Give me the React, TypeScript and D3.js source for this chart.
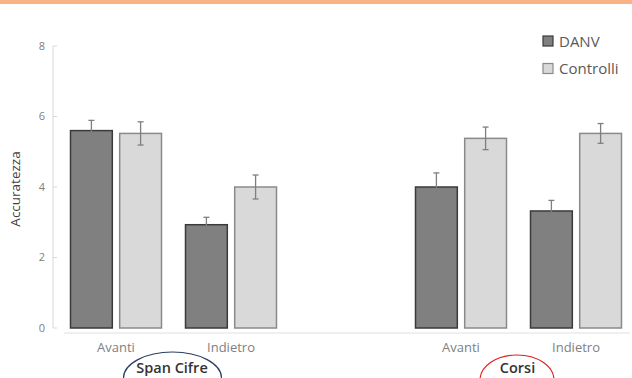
import React from "react";
import * as d3 from "d3";

const groups = ["Span Cifre", "Corsi"];
const categories = ["Avanti", "Indietro"];
const slots = ["Span Cifre|Avanti", "Span Cifre|Indietro", "gap", "Corsi|Avanti", "Corsi|Indietro"];
const seriesNames = ["DANV", "Controlli"];
const danv = [5.6, 2.93, 4.0, 3.32];
const controlli = [5.52, 4.0, 5.38, 5.52];
const danvErr = [0.29, 0.21, 0.4, 0.3];
const controlliErr = [0.33, 0.34, 0.32, 0.28];
const yTicks = [0, 2, 4, 6, 8];

const W = 632;
const H = 378;
const FONT = "'Open Sans', sans-serif";

export default function App() {
  const y = d3.scaleLinear().domain([0, 8]).range([328, 46]);
  const x = d3.scaleBand<string>().domain(slots).range([58.5, 633.5]).paddingInner(0).paddingOuter(0);
  const inner = d3.scaleBand<string>().domain(seriesNames).range([-45.5, 45.5]).paddingInner(0.15);

  const barData: { key: string; series: string; value: number; err: number }[] = [];
  groups.forEach((g, gi) => {
    categories.forEach((c, ci) => {
      const i = gi * 2 + ci;
      const key = `${g}|${c}`;
      barData.push({ key, series: "DANV", value: danv[i], err: danvErr[i] });
      barData.push({ key, series: "Controlli", value: controlli[i], err: controlliErr[i] });
    });
  });

  const fills: Record<string, string> = { DANV: "#808080", Controlli: "#d9d9d9" };
  const strokes: Record<string, string> = { DANV: "#3a3a3a", Controlli: "#8a8a8a" };
  const center = (k: string) => (x(k) as number) + x.bandwidth() / 2;

  return (
    <svg width={W} height={H} style={{ position: "absolute", left: 0, top: 0, background: "#fff" }}>
      <rect x={0} y={0} width={W} height={4} fill="#f9b384" />
      {/* y axis */}
      <line x1={53} x2={53} y1={y(8)} y2={y(0)} stroke="#d9d9d9" strokeWidth={1} />
      {yTicks.map((t) => (
        <g key={t}>
          <line x1={53} x2={57} y1={y(t)} y2={y(t)} stroke="#d9d9d9" strokeWidth={1} />
          <text x={45} y={y(t)} dy="0.35em" textAnchor="end" fontFamily={FONT} fontSize={11} fill="#808080">
            {t}
          </text>
        </g>
      ))}
      <text
        transform={`translate(15,189) rotate(-90)`}
        textAnchor="middle"
        dy="0.35em"
        fontFamily={FONT}
        fontSize={13.5}
        fill="#404040"
      >
        Accuratezza
      </text>
      {/* x axis line */}
      <line x1={64} x2={630} y1={333} y2={333} stroke="#e0e0e0" strokeWidth={1} />
      {/* bars */}
      {barData.map((d, i) => {
        const bx = center(d.key) + (inner(d.series) as number);
        const bw = inner.bandwidth();
        const cx = bx + bw / 2;
        return (
          <g key={i}>
            <rect x={bx} y={y(d.value)} width={bw} height={y(0) - y(d.value)} fill={fills[d.series]} stroke={strokes[d.series]} strokeWidth={1.5} />
            <line x1={cx} x2={cx} y1={y(d.value + d.err)} y2={y(d.value - d.err)} stroke="#7f7f7f" strokeWidth={1.3} />
            <line x1={cx - 3} x2={cx + 3} y1={y(d.value + d.err)} y2={y(d.value + d.err)} stroke="#7f7f7f" strokeWidth={1.3} />
            <line x1={cx - 3} x2={cx + 3} y1={y(d.value - d.err)} y2={y(d.value - d.err)} stroke="#7f7f7f" strokeWidth={1.3} />
          </g>
        );
      })}
      {/* category labels */}
      {groups.map((g) =>
        categories.map((c) => (
          <text key={g + c} x={center(`${g}|${c}`)} y={352} textAnchor="middle" fontFamily={FONT} fontSize={13} fill="#808080">
            {c}
          </text>
        ))
      )}
      {/* group annotations */}
      <ellipse cx={172.5} cy={378} rx={49} ry={26} fill="none" stroke="#2c3e63" strokeWidth={1.2} />
      <text x={172} y={373} textAnchor="middle" fontFamily={FONT} fontSize={14.5} fontWeight={600} fill="#333">
        {groups[0]}
      </text>
      <ellipse cx={517} cy={380} rx={37} ry={25} fill="none" stroke="#e02020" strokeWidth={1.2} />
      <text x={517.5} y={373} textAnchor="middle" fontFamily={FONT} fontSize={14.5} fontWeight={600} fill="#333">
        {groups[1]}
      </text>
      {/* legend */}
      {seriesNames.map((s, i) => (
        <g key={s} transform={`translate(543,${36 + i * 27.5})`}>
          <rect x={0} y={0} width={10} height={10} fill={fills[s]} stroke={strokes[s]} strokeWidth={1.2} />
          <text x={16} y={10.5} fontFamily={FONT} fontSize={15} fill="#595959">
            {s}
          </text>
        </g>
      ))}
    </svg>
  );
}
